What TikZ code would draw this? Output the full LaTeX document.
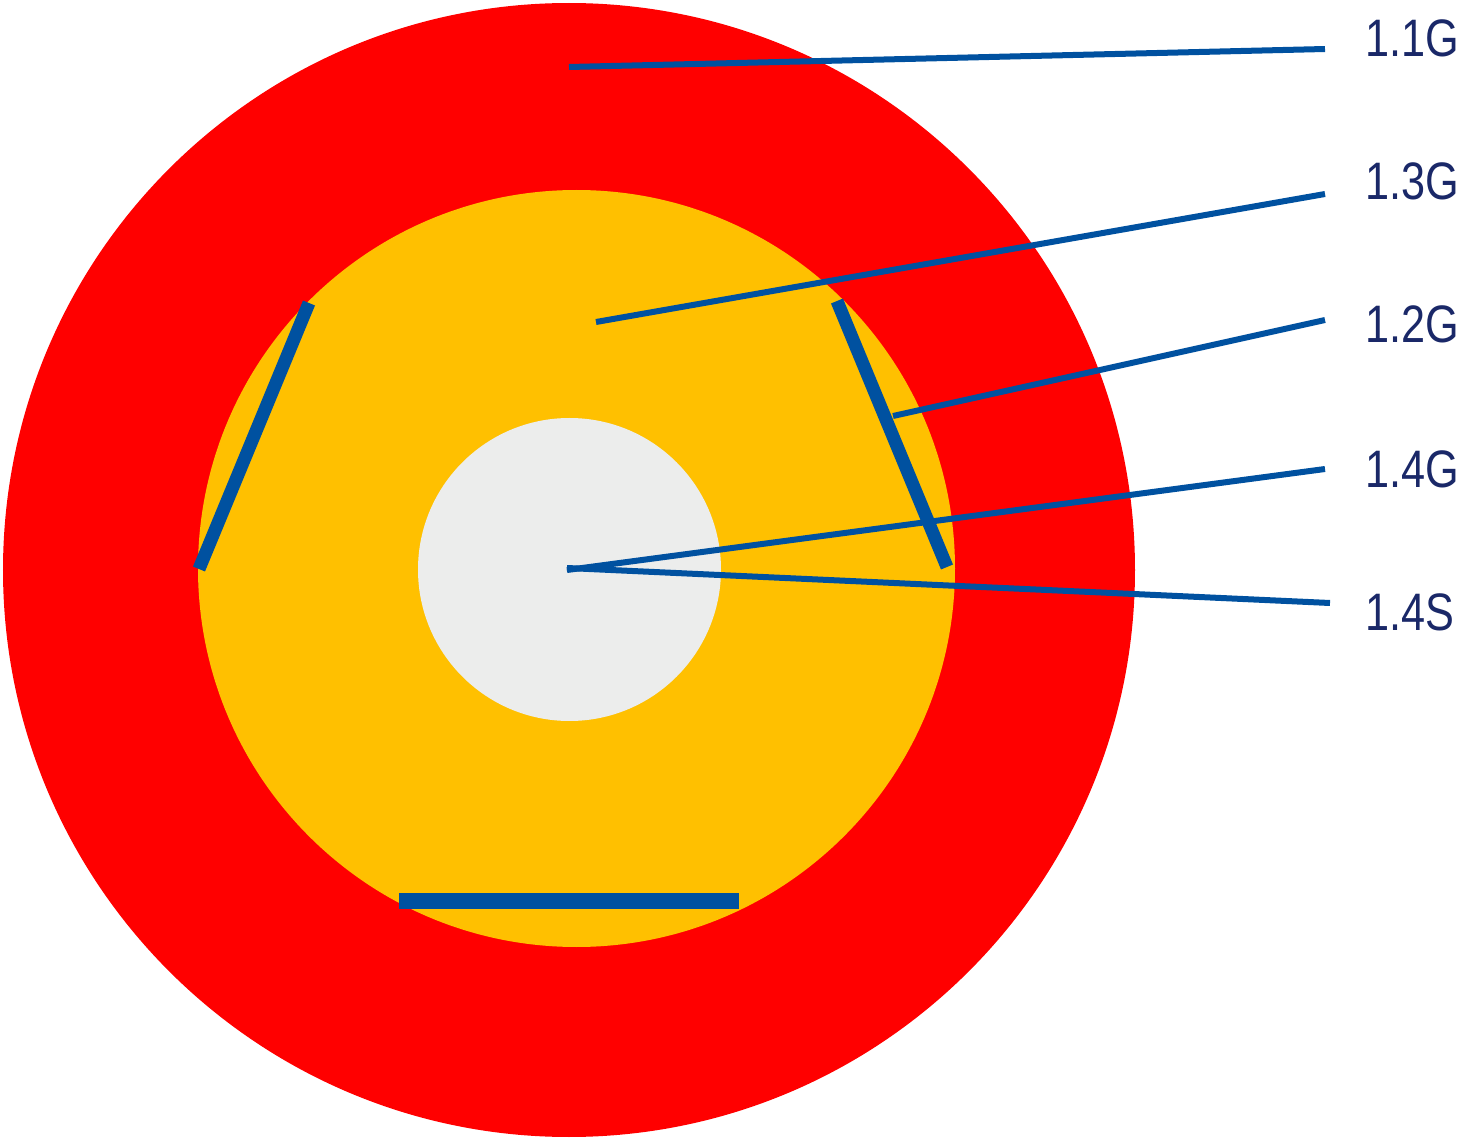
\documentclass[tikz,border=0pt]{standalone}
\usepackage{fontspec}
\usepackage{tikz}
\usetikzlibrary{positioning}
\newfontfamily\lblfont[FakeStretch=0.82]{Liberation Sans}
\definecolor{ringred}{RGB}{255,0,0}
\definecolor{ringyellow}{RGB}{255,192,0}
\definecolor{coregrey}{RGB}{236,237,236}
\definecolor{leadblue}{RGB}{0,81,160}
\definecolor{lblnavy}{RGB}{26,40,104}

\begin{document}
\begin{tikzpicture}[
      lead/.style={draw=leadblue,line width=0.06cm},
      bar/.style={draw=leadblue,line width=0.13cm},
      lbl/.style={anchor=base west,inner sep=0pt,text=lblnavy,
                  font=\lblfont\fontsize{15}{18}\selectfont}
    ]
      \useasboundingbox (0,0) rectangle (14.65,11.39);
      % rings
      \fill[ringred] (5.69,5.69) ellipse [x radius=5.66,y radius=5.67];
      \fill[ringyellow] (5.765,5.705) circle [radius=3.785];
      \fill[coregrey] (5.695,5.695) circle [radius=1.515];
      % bars
      \coordinate (bl1) at (3.09,8.36);
      \coordinate (bl2) at (1.99,5.70);
      \coordinate (br1) at (8.37,8.38);
      \coordinate (br2) at (9.47,5.72);
      \coordinate (bb1) at (3.99,2.38);
      \coordinate (bb2) at (7.39,2.38);
      \draw[bar] (bl1) -- (bl2);
      \draw[bar] (br1) -- (br2);
      \draw[bar,line width=0.16cm] (bb1) -- (bb2);
      % leader lines
      \coordinate (s11) at (5.69,10.72);
      \coordinate (s13) at (5.96,8.17);
      \coordinate (s12) at (8.93,7.23);
      \coordinate (s14g) at (5.67,5.69);
      \coordinate (s14s) at (5.67,5.71);
      \coordinate (e11) at (13.25,10.90);
      \coordinate (e13) at (13.25,9.45);
      \coordinate (e12) at (13.25,8.19);
      \coordinate (e14g) at (13.25,6.70);
      \coordinate (e14s) at (13.30,5.36);
      \draw[lead] (s11) -- (e11);
      \draw[lead] (s13) -- (e13);
      \draw[lead] (s12) -- (e12);
      \draw[lead] (s14g) -- (e14g);
      \draw[lead] (s14s) -- (e14s);
      % labels
      \node[lbl] (l11) at (13.65,10.82) {1.1G};
      \node[lbl] (l13) at (13.65,9.39) {1.3G};
      \node[lbl] (l12) at (13.65,7.96) {1.2G};
      \node[lbl] (l14g) at (13.65,6.52) {1.4G};
      \node[lbl] (l14s) at (13.65,5.08) {1.4S};
    \end{tikzpicture}
\end{document}
